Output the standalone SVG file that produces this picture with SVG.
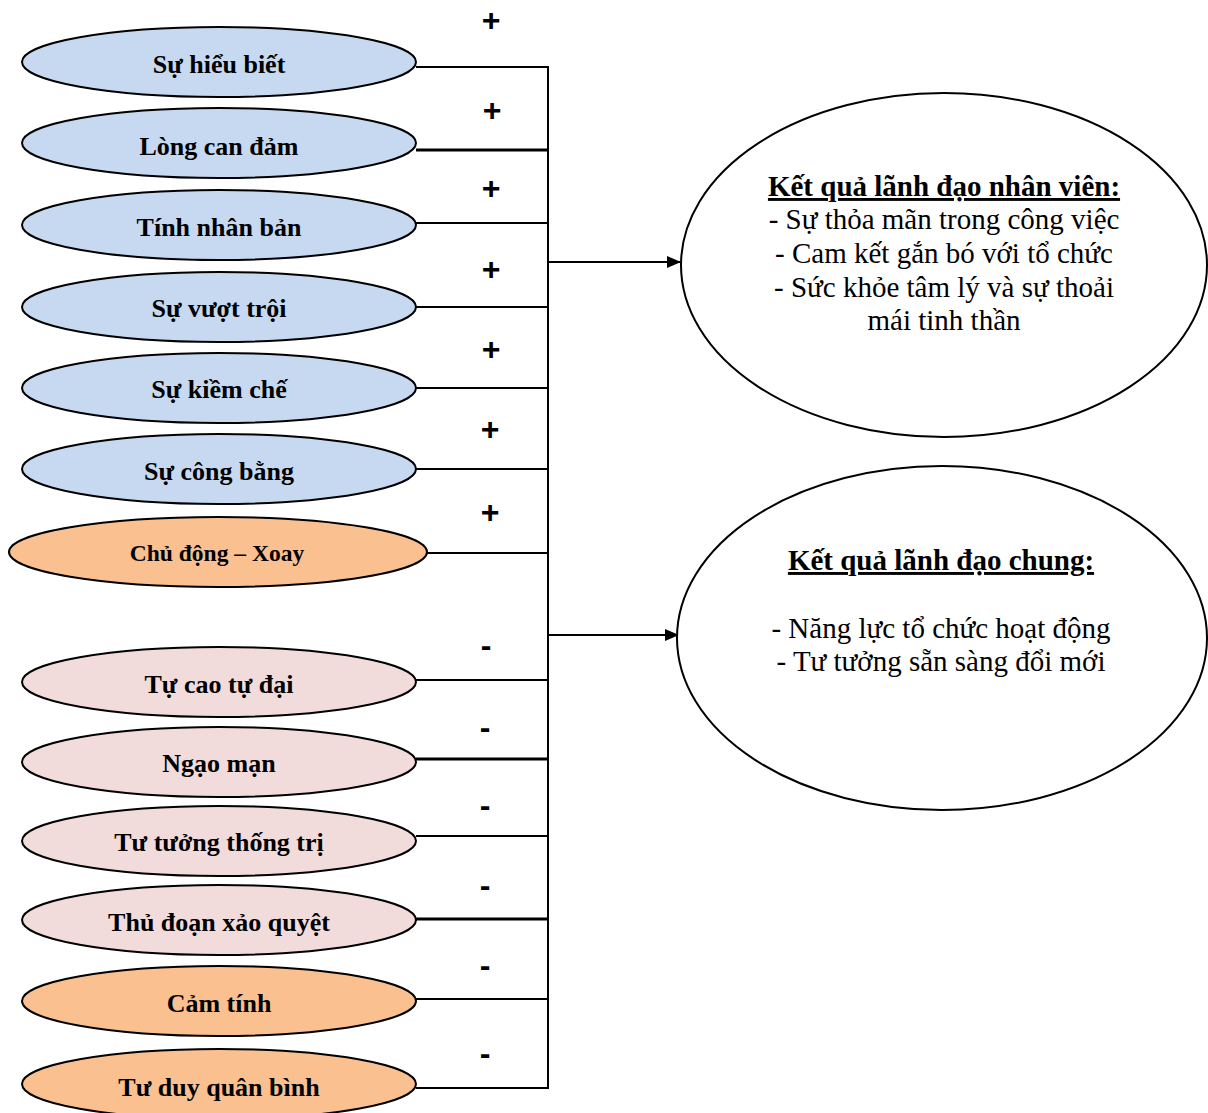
<svg xmlns="http://www.w3.org/2000/svg" width="1208" height="1113" viewBox="0 0 1208 1113">
<style>
.e{stroke:#000;stroke-width:2}
.b{fill:#c6d9f1}.p{fill:#f2dcdb}.o{fill:#fac090}.w{fill:#fff}
.t{font-family:"Liberation Serif",serif;font-weight:bold;font-size:26px;text-anchor:middle;fill:#000}
.s{font-family:"Liberation Serif",serif;font-size:29px;text-anchor:middle;fill:#000}
.h{font-weight:bold;text-decoration:underline}
.sg{font-family:"Liberation Sans",sans-serif;font-weight:bold;font-size:32px;text-anchor:middle;fill:#000}
.c{stroke:#000;stroke-width:2;fill:none}
</style>
<defs>
<marker id="ar" markerWidth="14" markerHeight="12" refX="13" refY="6" orient="auto" markerUnits="userSpaceOnUse"><path d="M0,0 L14,6 L0,12 z" fill="#000"/></marker>
</defs>
<g id="connectors">
<path class="c" d="M416,67 H548 M416,223 H548 M416,307 H548 M416,388 H548 M416,469 H548 M427,553 H548 M416,680 H548 M416,836 H548 M416,999 H548 M416,1088 H548 M548,66 V1089"/>
<path d="M416,150 H548 M416,759 H548 M416,919 H548" style="stroke:#000;stroke-width:3;fill:none"/>
<path class="c" d="M548,262 H680" marker-end="url(#ar)"/>
<path class="c" d="M548,635 H678" marker-end="url(#ar)"/>
<text class="sg" x="491" y="31">+</text>
<text class="sg" x="492" y="121">+</text>
<text class="sg" x="491" y="199">+</text>
<text class="sg" x="491" y="280">+</text>
<text class="sg" x="491" y="360">+</text>
<text class="sg" x="490" y="440">+</text>
<text class="sg" x="490" y="523">+</text>
<text class="sg" x="486" y="656">-</text>
<text class="sg" x="485" y="738">-</text>
<text class="sg" x="485" y="816">-</text>
<text class="sg" x="485" y="896">-</text>
<text class="sg" x="485" y="976">-</text>
<text class="sg" x="485" y="1064">-</text>
</g>
<g id="n1"><ellipse class="e b" cx="219" cy="62" rx="197" ry="35"/><text class="t" x="219" y="73">Sự hiểu biết</text></g>
<g id="n2"><ellipse class="e b" cx="219" cy="143" rx="197" ry="35"/><text class="t" x="219" y="155">Lòng can đảm</text></g>
<g id="n3"><ellipse class="e b" cx="219" cy="225" rx="197" ry="35"/><text class="t" x="219" y="236">Tính nhân bản</text></g>
<g id="n4"><ellipse class="e b" cx="219" cy="307" rx="197" ry="35"/><text class="t" x="219" y="317">Sự vượt trội</text></g>
<g id="n5"><ellipse class="e b" cx="219" cy="388" rx="197" ry="35"/><text class="t" x="219" y="398">Sự kiềm chế</text></g>
<g id="n6"><ellipse class="e b" cx="219" cy="469" rx="197" ry="35"/><text class="t" x="219" y="480">Sự công bằng</text></g>
<g id="n7"><ellipse class="e o" cx="218" cy="552" rx="209" ry="35"/><text class="t" x="217" y="561" style="font-size:23.5px">Chủ động – Xoay</text></g>
<g id="n8"><ellipse class="e p" cx="219" cy="682" rx="197" ry="35"/><text class="t" x="219" y="693">Tự cao tự đại</text></g>
<g id="n9"><ellipse class="e p" cx="219" cy="762" rx="197" ry="35"/><text class="t" x="219" y="772">Ngạo mạn</text></g>
<g id="n10"><ellipse class="e p" cx="219" cy="841" rx="197" ry="35"/><text class="t" x="219" y="851">Tư tưởng thống trị</text></g>
<g id="n11"><ellipse class="e p" cx="219" cy="920" rx="197" ry="35"/><text class="t" x="219" y="931">Thủ đoạn xảo quyệt</text></g>
<g id="n12"><ellipse class="e o" cx="219" cy="1001" rx="197" ry="35"/><text class="t" x="219" y="1012">Cảm tính</text></g>
<g id="n13"><ellipse class="e o" cx="219" cy="1084" rx="197" ry="35"/><text class="t" x="219" y="1096">Tư duy quân bình</text></g>
<g id="r1"><ellipse class="e w" cx="944" cy="265" rx="263" ry="172"/>
<text class="s h" x="944" y="196">Kết quả lãnh đạo nhân viên:</text>
<text class="s" x="944" y="229">- Sự thỏa mãn trong công việc</text>
<text class="s" x="944" y="263">- Cam kết gắn bó với tổ chức</text>
<text class="s" x="944" y="297">- Sức khỏe tâm lý và sự thoải</text>
<text class="s" x="944" y="330">mái tinh thần</text>
</g>
<g id="r2"><ellipse class="e w" cx="942" cy="638" rx="265" ry="172"/>
<text class="s h" x="941" y="570">Kết quả lãnh đạo chung:</text>
<text class="s" x="941" y="638">- Năng lực tổ chức hoạt động</text>
<text class="s" x="941" y="671">- Tư tưởng sẵn sàng đổi mới</text>
</g>
</svg>
